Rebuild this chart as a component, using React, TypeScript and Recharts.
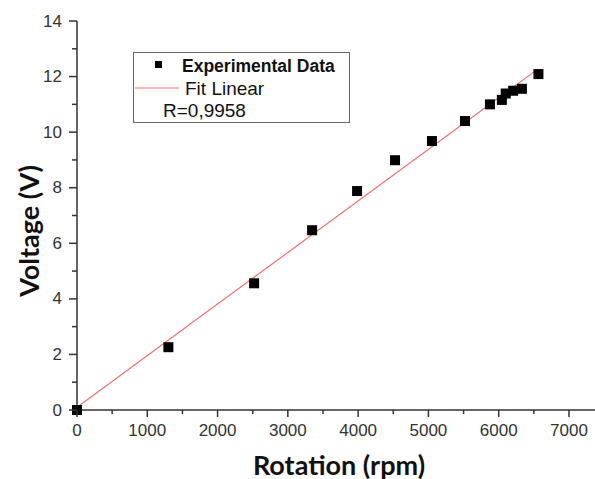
import { ScatterChart, Scatter, XAxis, YAxis } from 'recharts';

const rpm = [0, 1300, 2520, 3345, 3985, 4525, 5050, 5520, 5875, 6045, 6100, 6205, 6330, 6565];
const volts = [0, 2.26, 4.56, 6.47, 7.88, 8.99, 9.68, 10.4, 11.0, 11.16, 11.39, 11.49, 11.56, 12.09];

// linear fit end points
const fitRpm = [0, 6545];
const fitVolts = [0.1, 12.25];

const xTicks = [0, 500, 1000, 1500, 2000, 2500, 3000, 3500, 4000, 4500, 5000, 5500, 6000, 6500, 7000];
const yTicks = [0, 1, 2, 3, 4, 5, 6, 7, 8, 9, 10, 11, 12, 13, 14];

const points = rpm.map((x, i) => ({ x, y: volts[i] }));
const fit = fitRpm.map((x, i) => ({ x, y: fitVolts[i] }));

const tickFont = { fontFamily: '"Liberation Sans", Arial, sans-serif', fontSize: 17, fill: '#333' };
const titleFont = {
  fontFamily: 'Lato, "Open Sans", sans-serif',
  fontWeight: 700,
  fontSize: 27,
  lineHeight: '27px',
  color: '#111',
};
const legendFont = '"Liberation Sans", Arial, sans-serif';

function XTick(props: any) {
  const { x, y, payload } = props;
  const major = payload.value % 1000 === 0;
  return (
    <g>
      <line x1={x} x2={x} y1={y} y2={y + (major ? 7 : 4)} stroke="#333" strokeWidth={1.5} />
      {major && (
        <text x={x} y={y + 20} textAnchor="middle" dominantBaseline="central" {...tickFont}>
          {payload.value}
        </text>
      )}
    </g>
  );
}

function YTick(props: any) {
  const { x, y, payload } = props;
  const major = payload.value % 2 === 0;
  return (
    <g>
      <line x1={x} x2={x - (major ? 8 : 5)} y1={y} y2={y} stroke="#333" strokeWidth={1.5} />
      {major && (
        <text x={x - 15} y={y} textAnchor="end" dominantBaseline="central" {...tickFont}>
          {payload.value}
        </text>
      )}
    </g>
  );
}

function SquareDot(props: any) {
  const { cx, cy } = props;
  return <rect x={cx - 5} y={cy - 5} width={10} height={10} fill="#000" />;
}

export default function App() {
  return (
    <div style={{ position: 'absolute', left: 0, top: 0, width: 595, height: 479, background: '#fff' }}>
      <ScatterChart width={595} height={479} margin={{ top: 21, right: 0, bottom: 0, left: 0 }}>
        <XAxis
          type="number"
          dataKey="x"
          domain={[0, 7370]}
          ticks={xTicks}
          interval={0}
          height={69}
          tickSize={0}
          tickMargin={0}
          tickLine={false}
          tick={<XTick />}
          axisLine={{ stroke: '#333', strokeWidth: 1.5 }}
        />
        <YAxis
          type="number"
          dataKey="y"
          domain={[0, 14]}
          ticks={yTicks}
          interval={0}
          width={77}
          tickSize={0}
          tickMargin={0}
          tickLine={false}
          tick={<YTick />}
          axisLine={{ stroke: '#333', strokeWidth: 1.5 }}
        />
        <Scatter
          data={fit}
          line={{ stroke: '#f07070', strokeWidth: 1.2 }}
          shape={() => <g />}
          isAnimationActive={false}
        />
        <Scatter data={points} shape={<SquareDot />} isAnimationActive={false} />
      </ScatterChart>

      <div
        style={{
          position: 'absolute', left: 28, top: 231, transform: 'translate(-50%, -50%) rotate(-90deg)',
          whiteSpace: 'nowrap', ...titleFont,
        }}
      >
        Voltage (V)
      </div>
      <div
        style={{
          position: 'absolute', left: 339, top: 464, transform: 'translate(-50%, -50%)',
          whiteSpace: 'nowrap', ...titleFont,
        }}
      >
        Rotation (rpm)
      </div>

      <svg style={{ position: 'absolute', left: 133, top: 52 }} width={217} height={71}>
        <rect x={0.5} y={0.5} width={216} height={70} fill="#fff" stroke="#666" strokeWidth={1} />
        <rect x={22} y={9} width={7} height={7} fill="#000" />
        <text x={49} y={14} dominantBaseline="central" fontFamily={legendFont} fontWeight={700} fontSize={17.5} fill="#111">
          Experimental Data
        </text>
        <line x1={2} x2={46} y1={36} y2={36} stroke="#f07070" strokeWidth={1.2} />
        <text x={52} y={36} dominantBaseline="central" fontFamily={legendFont} fontSize={19} fill="#111">
          Fit Linear
        </text>
        <text x={30} y={58} dominantBaseline="central" fontFamily={legendFont} fontSize={19} fill="#111">
          R=0,9958
        </text>
      </svg>
    </div>
  );
}
